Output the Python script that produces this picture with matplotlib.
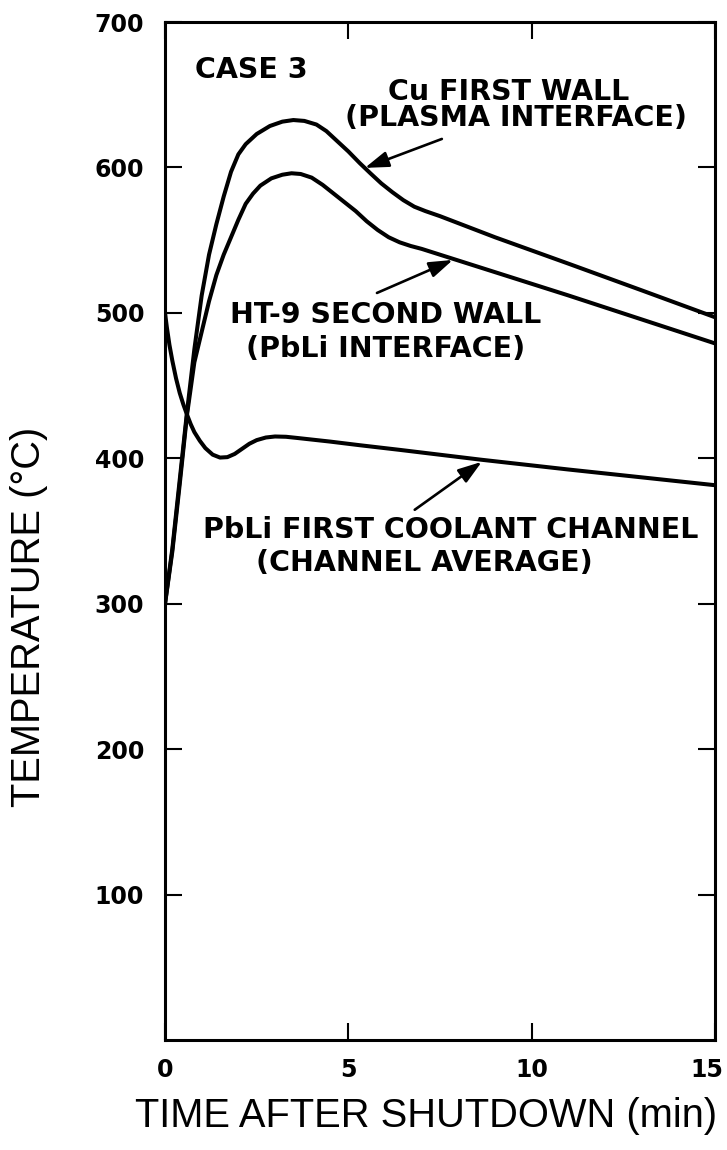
import matplotlib
matplotlib.use("Agg")
import matplotlib.pyplot as plt
from matplotlib.transforms import ScaledTranslation

# Time after shutdown (min) and temperatures (deg C) for each location
cu_time = [0, 0.2, 0.4, 0.6, 0.8, 1.0, 1.2, 1.4, 1.6, 1.8, 2.0, 2.2, 2.5,
           2.86, 3.2, 3.5, 3.8, 4.13, 4.4, 4.7, 5.0, 5.31, 5.6, 5.9, 6.2, 6.5,
           6.8, 7.1, 7.5, 9.0, 11.04, 13.0, 15.0]
cu_temp = [300, 338, 385, 432, 475, 512, 540, 561, 580, 597, 609, 616, 623,
           628.5, 631.5, 632.6, 632, 629.5, 625, 618, 611, 603, 596, 589, 583, 577.5,
           573, 570, 566.5, 552, 533.5, 515.5, 497]

ht9_time = [0, 0.2, 0.4, 0.6, 0.8, 1.0, 1.2, 1.4, 1.6, 1.8, 2.0, 2.2, 2.4,
            2.6, 2.9, 3.2, 3.45, 3.7, 4.0, 4.3, 4.6, 4.9, 5.2, 5.5, 5.8, 6.1,
            6.4, 6.7, 7.0, 7.5, 9.0, 11.0, 13.0, 15.0]
ht9_temp = [300, 336, 382, 430, 466, 487, 508, 526, 540, 552, 564, 575, 582,
            587.5, 592.5, 595, 596, 595.5, 593, 588, 582, 576, 570, 563, 557, 552,
            548.5, 546, 544, 540, 528, 512, 495.5, 479]

pbli_time = [0, 0.05, 0.12, 0.2, 0.3, 0.4, 0.5, 0.6, 0.7, 0.8, 0.95, 1.1, 1.3,
             1.5, 1.7, 1.9, 2.1, 2.3, 2.5, 2.75, 3.0, 3.3, 3.6, 4.5, 5.31, 6.4,
             8.63, 11.0, 15.0]
pbli_temp = [500, 490, 478, 467, 455, 445, 437, 430, 423.5, 418, 412, 407, 402.5,
             400.5, 400.8, 403, 406.5, 410, 412.5, 414.3, 415, 414.8, 414, 411.5, 409, 405.8,
             399, 392.3, 381.5]

x_ticks = [0, 5, 10, 15]
y_ticks = [100, 200, 300, 400, 500, 600, 700]

fig = plt.figure(figsize=(7.27, 11.5), dpi=100)
ax = fig.add_axes([0.2270, 0.09565, 0.7565, 0.8852])

line_kw = dict(color="black", lw=2.9, solid_joinstyle="round", solid_capstyle="round")
ax.plot(cu_time, cu_temp, **line_kw)
ax.plot(ht9_time, ht9_temp, **line_kw)
ax.plot(pbli_time, pbli_temp, **line_kw)

ax.set_xlim(0, 15)
ax.set_ylim(0, 700)
ax.set_xticks(x_ticks)
ax.set_yticks(y_ticks)
ax.set_xticklabels([str(v) for v in x_ticks])
ax.set_yticklabels([str(v) for v in y_ticks])

for side in ax.spines.values():
    side.set_linewidth(2.2)
    side.set_color("black")

ax.tick_params(axis="both", which="major", direction="in", length=12, width=1.5,
               top=True, right=True, labelsize=17, colors="black")
ax.tick_params(axis="x", pad=13)
ax.tick_params(axis="y", pad=15)
for lab in ax.get_xticklabels() + ax.get_yticklabels():
    lab.set_fontweight("bold")
    lab.set_family("DejaVu Sans")

# keep the last time label inside the figure edge
last = ax.get_xticklabels()[-1]
last.set_transform(last.get_transform() + ScaledTranslation(-8 / 100, 0, fig.dpi_scale_trans))

txt_kw = dict(fontsize=20.5, fontweight="bold", family="DejaVu Sans", color="black",
              va="baseline")
ax.text(0.82, 661.5, "CASE 3", ha="left", **txt_kw)
ax.text(9.37, 646.7, "Cu FIRST WALL", ha="center", **txt_kw)
ax.text(9.56, 628.5, "(PLASMA INTERFACE)", ha="center", **txt_kw)
ax.text(6.02, 493.0, "HT-9 SECOND WALL", ha="center", **txt_kw)
ax.text(6.02, 469.8, "(PbLi INTERFACE)", ha="center", **txt_kw)
ax.text(7.79, 345.4, "PbLi FIRST COOLANT CHANNEL", ha="center", **txt_kw)
ax.text(7.07, 322.7, "(CHANNEL AVERAGE)", ha="center", **txt_kw)

arrow_kw = dict(arrowstyle="-|>,head_length=0.72,head_width=0.24", color="black",
                lw=1.9, shrinkA=0, shrinkB=0, mutation_scale=20)
ax.annotate("", xy=(5.45, 599.7), xytext=(7.55, 619.6), arrowprops=arrow_kw)
ax.annotate("", xy=(7.85, 536.4), xytext=(5.78, 513.7), arrowprops=arrow_kw)
ax.annotate("", xy=(8.64, 397.6), xytext=(6.81, 364.6), arrowprops=arrow_kw)

fig.text(426 / 727, 1 - 1127 / 1150, "TIME AFTER SHUTDOWN (min)", ha="center",
         va="baseline", fontsize=28.7, family="Liberation Sans", color="black")
fig.text(29 / 727, 1 - 617 / 1150, "TEMPERATURE (\u00b0C)", ha="center", va="center",
         rotation=90, fontsize=28.7, family="Liberation Sans", color="black")

fig.savefig("out.png", dpi=100, facecolor="white")
